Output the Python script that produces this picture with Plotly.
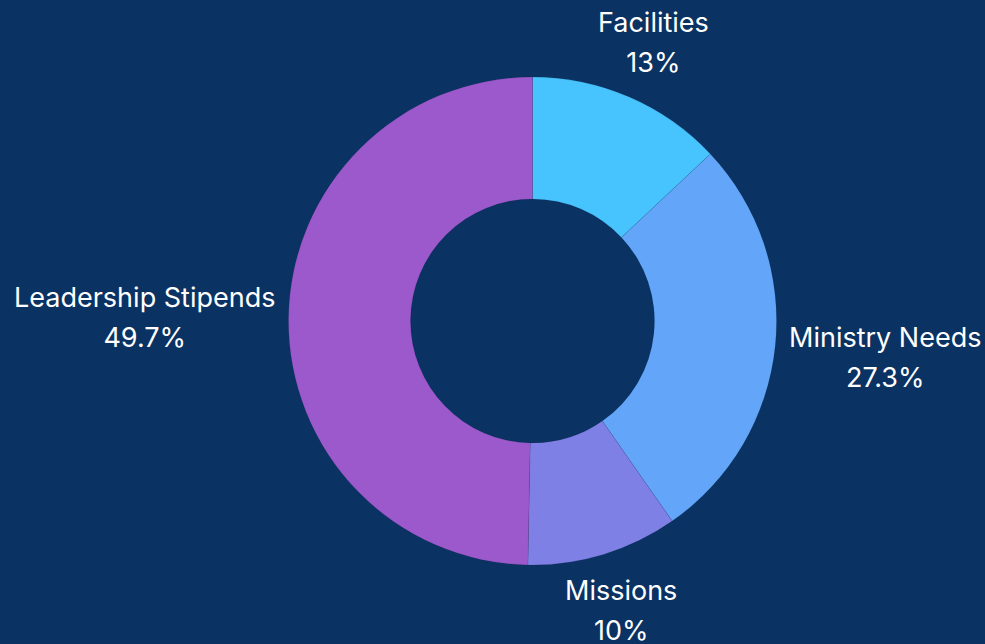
import math
import plotly.graph_objects as go

labels = ["Facilities", "Ministry Needs", "Missions", "Leadership Stipends"]
values = [13, 27.3, 10, 49.7]
percent_text = ["13%", "27.3%", "10%", "49.7%"]
colors = ["#47c3fe", "#63a6f9", "#7f80e6", "#9b59cc"]

bg = "#0a3262"
W, H = 985, 644
ML, MR, MT, MB = 80, 0, 77, 79
GAP_H, GAP_V = 12, 18
GLYPH = 27          # glyph size of label text
LINE_FONT = 31      # controls line spacing (1.3 x)

fig = go.Figure(go.Pie(
    labels=labels,
    values=values,
    hole=0.5,
    sort=False,
    direction="clockwise",
    rotation=0,
    marker=dict(colors=colors, line=dict(color="rgba(0,0,0,0.15)", width=0.5)),
    textinfo="none",
    automargin=False,
    showlegend=False,
    hoverinfo="label+percent",
))

# label placement derived from the pie geometry (same domain / margins):
# each label box sits just outside the ring, centred on the slice's mid ray
pw, ph = W - ML - MR, H - MT - MB
rad = min(pw, ph) / 2.0
total = sum(values)
half_h = LINE_FONT * 1.3  # approx half height of a two-line label
cum = 0.0
annotations = []
for lab, v, pt in zip(labels, values, percent_text):
    mid = (cum + v / 2.0) / total
    cum += v
    th = 2 * math.pi * mid
    ux, uy = math.sin(th), -math.cos(th)  # pixel direction (y down)
    xs = ys = 0.0
    if abs(ux) >= abs(uy):
        d = rad + GAP_H
        xa = "left" if ux > 0 else "right"
        ya = "middle"
        half_w = 0.25 * GLYPH * max(len(lab), len(pt))
        ys = -half_w * uy / abs(ux)
    else:
        d = rad + GAP_V
        xa = "center"
        ya = "top" if uy > 0 else "bottom"
        xs = half_h * ux / abs(uy)
    dx, dy = d * ux, d * uy
    annotations.append(dict(
        x=0.5 + dx / pw,
        y=0.5 - dy / ph,
        xref="paper", yref="paper",
        xanchor=xa, yanchor=ya,
        xshift=xs, yshift=ys,
        showarrow=False,
        align="center",
        text="<span style='font-size:%dpx'>%s</span><br><span style='font-size:%dpx'>%s</span>" % (GLYPH, lab, GLYPH, pt),
        font=dict(family="Inter", size=LINE_FONT, color="#ffffff"),
    ))

fig.update_layout(
    width=W,
    height=H,
    paper_bgcolor=bg,
    plot_bgcolor=bg,
    margin=dict(l=ML, r=MR, t=MT, b=MB, autoexpand=False),
    font=dict(family="Inter", color="#ffffff"),
    annotations=annotations,
)

fig.write_html(
    "out.html",
    config={"displayModeBar": False},
    post_script="document.body.style.margin='0';document.body.style.background='" + bg + "';document.body.style.overflow='hidden';",
)
